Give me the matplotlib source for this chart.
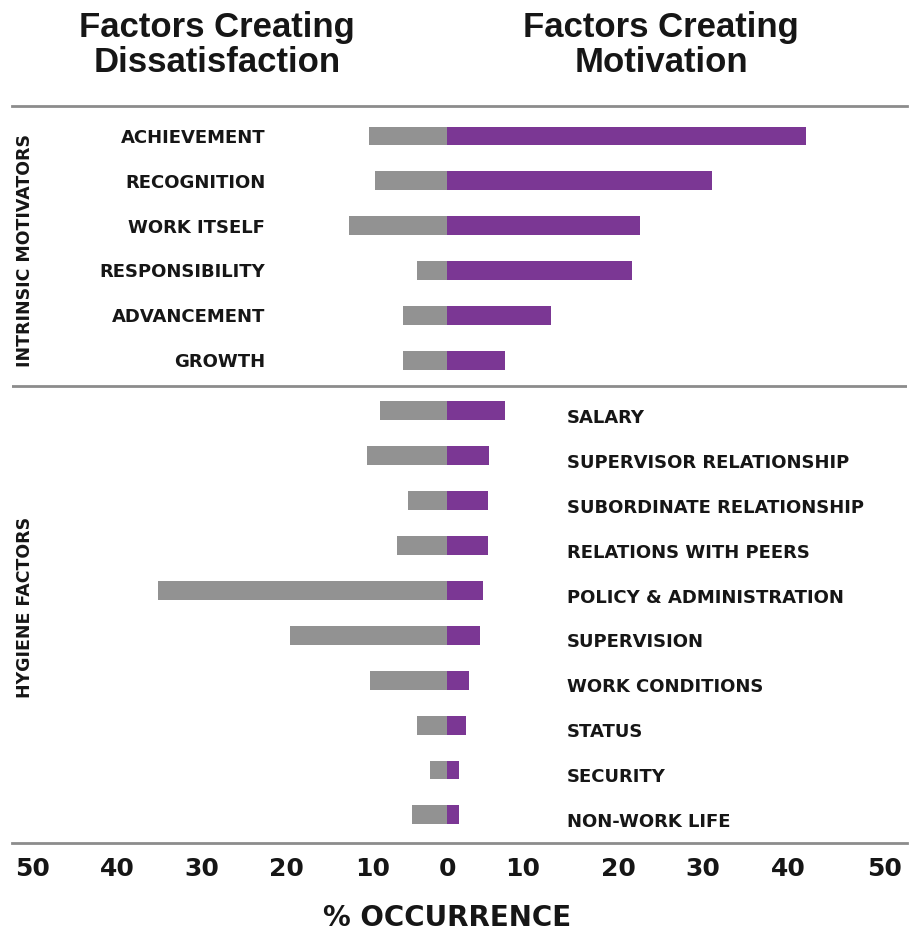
import numpy as np
import matplotlib
matplotlib.use("Agg")
import matplotlib.pyplot as plt

# Herzberg two-factor chart, % occurrence
intrinsic = ["ACHIEVEMENT", "RECOGNITION", "WORK ITSELF", "RESPONSIBILITY",
             "ADVANCEMENT", "GROWTH"]
hygiene = ["SALARY", "SUPERVISOR RELATIONSHIP", "SUBORDINATE RELATIONSHIP",
           "RELATIONS WITH PEERS", "POLICY & ADMINISTRATION", "SUPERVISION",
           "WORK CONDITIONS", "STATUS", "SECURITY", "NON-WORK LIFE"]

dissatisfaction = [9.0, 8.3, 11.3, 3.5, 5.1, 5.1,
                   7.7, 9.2, 4.5, 5.8, 33.2, 18.0, 8.9, 3.5, 2.0, 4.0]
motivation = [41.3, 30.4, 22.2, 21.3, 12.0, 6.7,
              6.7, 4.8, 4.7, 4.7, 4.1, 3.8, 2.5, 2.2, 1.4, 1.4]

tick_labels = ["50", "40", "30", "20", "10", "0", "10", "20", "30", "40", "50"]

gray = "#929292"
purple = "#7b3794"
line_gray = "#8c8c8c"
ink = "#161616"

fig = plt.figure(figsize=(9.09, 9.41), dpi=100)
ax = fig.add_axes([12 / 909, 98 / 941, 895 / 909, 737 / 941])

n_int = len(intrinsic)
y = np.arange(len(intrinsic) + len(hygiene), dtype=float)
y[n_int:] += 0.12

ax.barh(y, [-v for v in dissatisfaction], height=0.42, color=gray)
ax.barh(y, motivation, height=0.42, color=purple)

ax.set_xlim(-50, 52.87)
ax.set_ylim(15.746, -0.668)

# tick labels sit where the original artwork puts them
tick_pos = [-47.7, -37.9, -28.2, -18.4, -8.6, 0.1, 8.7, 19.7, 29.4, 39.2, 50.3]
ax.set_xticks(tick_pos)
ax.set_xticklabels(tick_labels, fontsize=18, fontweight="bold", color=ink)
ax.tick_params(axis="x", length=0, pad=10)
ax.set_yticks([])

for side in ["left", "right"]:
    ax.spines[side].set_visible(False)
for side in ["top", "bottom"]:
    ax.spines[side].set_color(line_gray)
    ax.spines[side].set_linewidth(2)
ax.axhline(5.57, color=line_gray, lw=2)

for yy, name in zip(y[:n_int], intrinsic):
    ax.text(-20.9, yy + 0.04, name, ha="right", va="center",
            fontsize=13, fontweight="bold", color=ink)
for yy, name in zip(y[n_int:], hygiene):
    ax.text(13.8, yy + 0.16, name, ha="left", va="center",
            fontsize=13, fontweight="bold", color=ink)

ax.text(-48.5, 2.54, "INTRINSIC MOTIVATORS", rotation=90, ha="center",
        va="center", fontsize=12.5, fontweight="bold", color=ink)
ax.text(-48.5, 10.5, "HYGIENE FACTORS", rotation=90, ha="center",
        va="center", fontsize=12.5, fontweight="bold", color=ink)

# headings
for xc, lines in [(217, ["Factors Creating", "Dissatisfaction"]),
                  (661, ["Factors Creating", "Motivation"])]:
    for base, txt in zip([37, 72], lines):
        fig.text(xc / 909, 1 - base / 941, txt, ha="center", va="baseline",
                 fontsize=25, fontweight="bold", family="Liberation Sans",
                 color=ink)

fig.text(447 / 909, 1 - 918 / 941, "% OCCURRENCE", ha="center", va="center",
         fontsize=20, fontweight="bold", color=ink)

fig.savefig("out.png", dpi=100)
